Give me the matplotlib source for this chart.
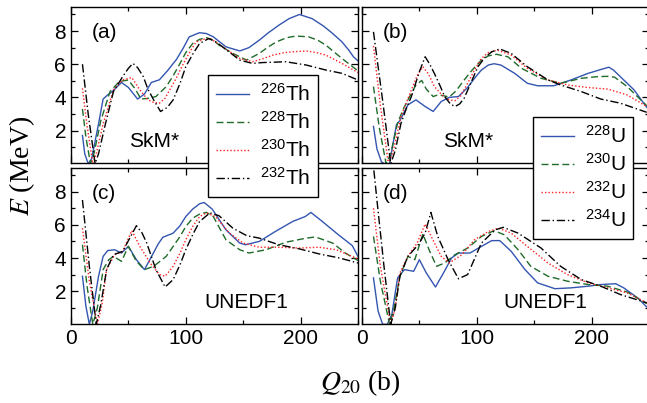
import numpy as np
import matplotlib
matplotlib.use("Agg")
import matplotlib.pyplot as plt

plt.rcParams["font.family"] = ["Liberation Sans", "DejaVu Sans"]
plt.rcParams["mathtext.fontset"] = "custom"
plt.rcParams["mathtext.rm"] = "Liberation Sans"
plt.rcParams["mathtext.it"] = "Liberation Sans:italic"

# ---- data: (Q20 [b], E [MeV]) ----
# (a) SkM*, Th isotopes
q_a226 = [10, 12, 15, 18, 24, 28, 32, 36, 44, 50, 58, 64, 70, 77, 84, 92, 98, 103, 112, 118, 124, 135, 147, 155, 164, 172, 181, 190, 199, 210, 220, 228, 236, 242, 246, 250]
e_a226 = [1.7, 0.6, 0.0, 0.3, 2.4, 3.9, 4.15, 4.35, 4.9, 4.6, 3.9, 4.2, 4.9, 5.06, 5.6, 6.3, 7.0, 7.65, 7.9, 7.85, 7.65, 7.05, 6.8, 7.0, 7.45, 7.9, 8.35, 8.75, 9.0, 8.75, 8.3, 7.85, 7.35, 6.85, 6.45, 6.2]
q_a228 = [10, 13, 17, 20, 26, 34, 42, 50, 56, 61, 68, 74, 83, 89, 95, 100, 106, 112, 118, 124, 129, 141, 153, 164, 172, 179, 188, 196, 207, 215, 222, 236, 250]
e_a228 = [3.3, 1.6, 0.0, 0.6, 2.6, 4.35, 4.95, 5.05, 4.5, 3.9, 3.95, 4.05, 4.65, 5.3, 6.05, 6.7, 7.25, 7.5, 7.6, 7.45, 7.15, 6.65, 6.25, 6.65, 7.05, 7.35, 7.6, 7.7, 7.65, 7.45, 7.15, 6.35, 5.6]
q_a230 = [10, 14, 19, 22, 28, 37, 45, 53, 60, 67, 72, 77, 82, 86, 92, 98, 104, 109, 115, 121, 127, 132, 147, 158, 168, 176, 186, 193, 205, 214, 222, 236, 250]
e_a230 = [4.55, 2.3, 0.0, 0.6, 2.4, 4.45, 5.05, 5.2, 4.45, 3.85, 3.7, 3.65, 3.95, 4.45, 5.2, 6.05, 6.8, 7.35, 7.5, 7.55, 7.3, 7.05, 6.35, 6.15, 6.35, 6.55, 6.7, 6.75, 6.8, 6.7, 6.55, 6.05, 5.5]
q_a232 = [10, 15, 21, 24, 30, 37, 45, 50, 54, 58, 63, 67, 72, 78, 84, 89, 95, 100, 106, 112, 120, 126, 132, 147, 158, 167, 176, 187, 196, 205, 222, 236, 250]
e_a232 = [6.0, 3.0, 0.0, 0.6, 2.4, 4.35, 5.25, 5.75, 6.05, 5.8, 5.25, 4.5, 3.85, 3.15, 3.4, 3.85, 4.85, 5.85, 6.6, 7.25, 7.55, 7.35, 7.05, 6.25, 6.05, 6.1, 6.12, 6.15, 6.05, 5.95, 5.65, 5.45, 5.05]

# (b) SkM*, U isotopes
q_b228 = [10, 13, 17, 20, 24, 27, 30, 33, 40, 47, 55, 62, 69, 76, 84, 92, 98, 104, 110, 115, 121, 133, 144, 153, 167, 182, 197, 209, 215, 219, 225, 237, 248]
e_b228 = [2.25, 0.9, 0.1, 0.0, 0.0, 1.2, 2.35, 2.6, 3.55, 3.85, 3.45, 3.15, 3.75, 4.0, 4.05, 4.6, 5.15, 5.65, 5.95, 6.03, 5.95, 5.45, 4.85, 4.7, 4.7, 5.05, 5.45, 5.7, 5.82, 5.65, 5.25, 4.45, 3.4]
q_b230 = [10, 15, 21, 25, 31, 36, 40, 47, 52, 56, 62, 66, 71, 76, 82, 89, 96, 104, 110, 117, 127, 139, 156, 173, 182, 191, 205, 214, 220, 231, 248]
e_b230 = [4.65, 2.2, 0.0, 0.6, 2.45, 3.3, 3.85, 4.75, 5.02, 4.5, 4.05, 4.15, 4.1, 4.02, 4.4, 5.05, 5.65, 6.25, 6.5, 6.6, 6.45, 5.75, 5.15, 4.85, 5.0, 5.15, 5.25, 5.27, 5.22, 4.65, 3.5]
q_b232 = [10, 16, 23, 27, 34, 39, 43, 48, 53, 58, 63, 71, 76, 81, 86, 92, 98, 104, 110, 118, 130, 144, 162, 179, 196, 214, 231, 248]
e_b232 = [7.1, 3.5, 0.0, 0.7, 2.85, 3.75, 4.45, 5.3, 5.85, 5.4, 4.65, 4.05, 3.85, 3.8, 4.1, 4.85, 5.65, 6.35, 6.7, 6.85, 6.55, 5.75, 5.05, 4.75, 4.6, 4.5, 4.15, 3.45]
q_b234 = [10, 18, 25, 29, 34, 39, 43, 50, 55, 59, 63, 68, 72, 77, 81, 85, 89, 95, 101, 107, 113, 120, 130, 144, 162, 173, 191, 208, 225, 248]
e_b234 = [7.95, 3.8, 0.0, 0.8, 2.45, 3.4, 4.05, 5.55, 6.45, 6.0, 5.45, 4.7, 4.05, 3.6, 3.45, 3.6, 3.95, 4.9, 5.85, 6.4, 6.75, 6.92, 6.65, 5.85, 5.05, 4.75, 4.35, 3.9, 3.65, 3.1]

# (c) UNEDF1, Th isotopes
q_c226 = [10, 13, 16, 19, 24, 28, 32, 38, 44, 50, 57, 64, 71, 76, 80, 89, 95, 100, 106, 112, 116, 123, 135, 147, 152, 164, 178, 193, 204, 209, 219, 233, 245, 250]
e_c226 = [2.9, 1.1, 0.0, 0.8, 2.9, 4.1, 4.45, 4.5, 4.3, 4.7, 3.9, 3.3, 4.2, 4.85, 5.25, 5.5, 5.95, 6.5, 6.95, 7.27, 7.35, 6.95, 5.7, 4.9, 4.8, 5.0, 5.6, 6.2, 6.5, 6.75, 6.2, 5.4, 4.75, 4.1]
q_c228 = [10, 14, 19, 23, 28, 33, 37, 44, 50, 57, 64, 72, 83, 89, 95, 100, 106, 112, 118, 124, 135, 147, 155, 170, 187, 205, 213, 228, 239, 250]
e_c228 = [4.8, 2.3, 0.0, 1.0, 3.3, 3.9, 4.1, 3.8, 4.7, 3.8, 3.3, 3.5, 4.1, 4.7, 5.3, 5.9, 6.4, 6.65, 6.75, 6.5, 5.1, 4.5, 4.3, 4.5, 4.95, 5.2, 5.27, 4.9, 4.3, 3.85]
q_c230 = [10, 16, 23, 27, 31, 38, 45, 53, 60, 69, 77, 82, 89, 95, 100, 106, 112, 118, 126, 138, 150, 164, 181, 199, 216, 231, 250]
e_c230 = [5.8, 2.6, 0.0, 1.2, 3.3, 4.2, 4.4, 5.65, 4.7, 3.7, 3.0, 2.9, 3.5, 4.3, 5.1, 5.9, 6.5, 6.72, 6.5, 5.5, 4.9, 4.65, 4.65, 4.6, 4.65, 4.5, 3.95]
q_c232 = [10, 16, 22, 26, 31, 37, 45, 52, 57, 62, 66, 74, 82, 89, 95, 100, 106, 112, 121, 129, 141, 153, 164, 181, 199, 216, 234, 250]
e_c232 = [7.5, 3.5, 0.0, 1.2, 3.3, 4.2, 4.4, 5.3, 5.95, 5.5, 4.9, 3.3, 2.25, 2.7, 3.6, 4.5, 5.4, 6.2, 6.72, 6.55, 5.8, 5.35, 5.2, 4.8, 4.55, 4.25, 4.0, 3.7]

# (d) UNEDF1, U isotopes
q_d228 = [10, 14, 18, 22, 26, 31, 37, 45, 50, 56, 64, 71, 78, 84, 94, 104, 113, 120, 130, 142, 153, 168, 182, 197, 208, 221, 228, 240, 248]
e_d228 = [2.8, 0.8, 0.0, 0.0, 0.6, 2.8, 3.3, 3.2, 3.9, 3.1, 2.25, 3.1, 4.0, 4.3, 4.3, 4.7, 5.05, 5.05, 4.4, 3.3, 2.5, 2.15, 2.2, 2.3, 2.4, 2.45, 2.2, 1.6, 1.05]
q_d230 = [10, 16, 24, 28, 33, 40, 46, 53, 59, 65, 72, 81, 92, 104, 115, 124, 136, 147, 162, 179, 197, 214, 231, 248]
e_d230 = [5.3, 2.6, 0.0, 1.0, 2.9, 4.1, 3.9, 5.45, 4.4, 3.5, 3.7, 4.2, 4.6, 5.3, 5.65, 5.4, 4.5, 3.5, 2.9, 2.6, 2.4, 2.3, 1.95, 1.25]
q_d232 = [10, 16, 25, 29, 33, 40, 48, 55, 61, 69, 76, 87, 98, 110, 119, 130, 144, 162, 179, 197, 214, 231, 248]
e_d232 = [7.0, 3.5, 0.0, 1.0, 3.1, 4.1, 4.9, 6.05, 5.2, 4.1, 3.7, 4.2, 5.1, 5.6, 5.8, 5.5, 4.7, 3.7, 3.0, 2.5, 2.2, 1.9, 1.3]
q_d234 = [9, 13, 19, 25, 29, 33, 40, 49, 55, 60, 66, 75, 84, 92, 104, 116, 123, 136, 156, 173, 191, 208, 225, 248]
e_d234 = [10.2, 7.5, 3.6, 0.0, 1.0, 2.9, 4.1, 4.8, 5.5, 6.75, 5.3, 3.9, 2.75, 3.0, 4.9, 5.7, 5.85, 5.5, 4.6, 3.5, 2.7, 2.3, 1.8, 1.3]

th_labels = ["226", "228", "230", "232"]
u_labels = ["228", "230", "232", "234"]

styles = [dict(color="#3355b0", ls="-"),
          dict(color="#1f6b2a", ls=(0, (5, 2.5))),
          dict(color="#ff2020", ls=(0, (1, 1.5))),
          dict(color="black", ls=(0, (6, 2, 1, 2)))]

panels = [
    ("(a)", "SkM*", [(q_a226, e_a226), (q_a228, e_a228), (q_a230, e_a230), (q_a232, e_a232)]),
    ("(b)", "SkM*", [(q_b228, e_b228), (q_b230, e_b230), (q_b232, e_b232), (q_b234, e_b234)]),
    ("(c)", "UNEDF1", [(q_c226, e_c226), (q_c228, e_c228), (q_c230, e_c230), (q_c232, e_c232)]),
    ("(d)", "UNEDF1", [(q_d228, e_d228), (q_d230, e_d230), (q_d232, e_d232), (q_d234, e_d234)]),
]
text_x = {"(a)": 0.29, "(b)": 0.37, "(c)": 0.61, "(d)": 0.64}

fig = plt.figure(figsize=(6.47, 4.03), dpi=100)
W, H = 0.4436, 0.388
rects = [(0.1097, 0.5946), (0.5595, 0.5946), (0.1097, 0.1960), (0.5595, 0.1960)]

axes = []
for (x0, y0), (tag, name, series) in zip(rects, panels):
    ax = fig.add_axes([x0, y0, W, H])
    lines = []
    for (q, e), st in zip(series, styles):
        ln, = ax.plot(q, e, lw=1.0, **st)
        lines.append(ln)
    ax.set_xlim(0, 250)
    ax.set_ylim(0.02, 9.45)
    ax.set_xticks([0, 100, 200])
    ax.set_xticks([50, 150, 250], minor=True)
    ax.set_yticks([2, 4, 6, 8])
    ax.set_yticks([1, 3, 5, 7, 9], minor=True)
    ax.tick_params(which="both", direction="in", top=True, right=True, labelsize=15)
    ax.tick_params(which="major", length=5, width=0.9)
    ax.tick_params(which="minor", length=3, width=0.9)
    if tag in ("(a)", "(b)"):
        ax.tick_params(labelbottom=False)
    if tag in ("(b)", "(d)"):
        ax.tick_params(labelleft=False)
    for sp in ax.spines.values():
        sp.set_linewidth(1.0)
    ax.text(0.073, 0.835, tag, transform=ax.transAxes, fontsize=15, va="center", ha="left")
    ax.text(text_x[tag], 0.14, name, transform=ax.transAxes, fontsize=15, va="center", ha="center")
    axes.append((ax, lines))

# legends drawn at figure level so they sit over the lower panels
leg_kw = dict(loc="upper left", fontsize=15, frameon=True, fancybox=False,
              edgecolor="black", handlelength=1.6, handletextpad=0.5,
              labelspacing=0.3, borderpad=0.38, borderaxespad=0)
leg1 = fig.legend(axes[0][1], [r"$^{%s}$Th" % s for s in th_labels],
                  bbox_to_anchor=(208 / 647, 1 - 75 / 403), **leg_kw)
leg2 = fig.legend(axes[1][1], [r"$^{%s}$U" % s for s in u_labels],
                  bbox_to_anchor=(533 / 647, 1 - 117 / 403), **leg_kw)
for lg in (leg1, leg2):
    lg.get_frame().set_linewidth(1.0)
    lg.get_frame().set_alpha(1)

fig.text(0.034, 0.589, r"$E$ (MeV)", rotation=90, ha="center", va="center",
         fontsize=20, family="Liberation Serif", math_fontfamily="stix")
fig.text(0.557, 0.05, r"$Q_{20}$ (b)", ha="center", va="center",
         fontsize=20, family="Liberation Serif", math_fontfamily="stix")

plt.savefig("out.png", dpi=100)
